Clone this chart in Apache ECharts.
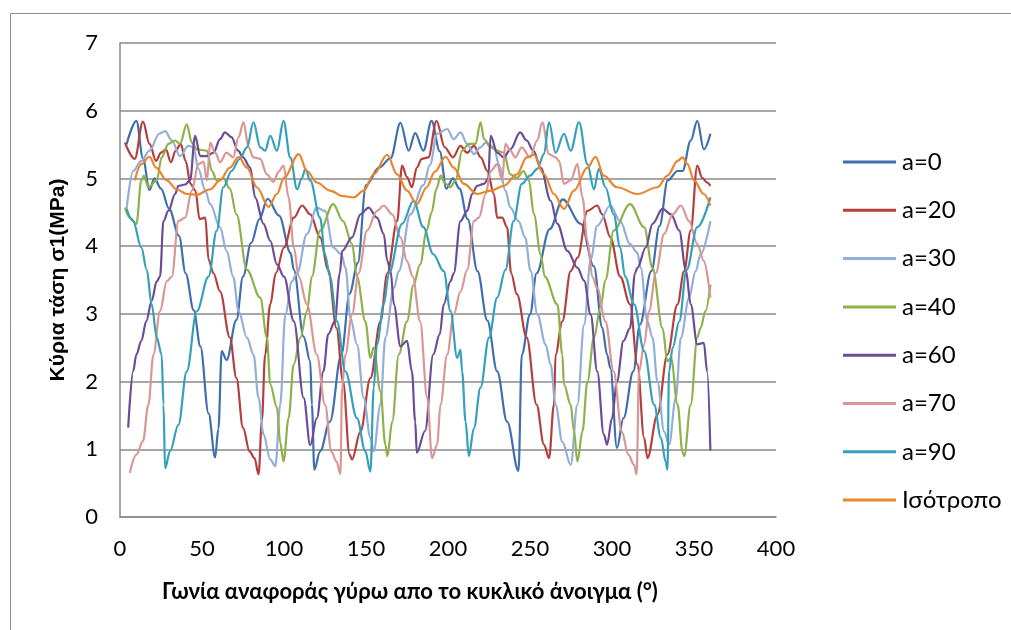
<!DOCTYPE html>
<html><head><meta charset="utf-8">
<script src="https://cdn.jsdelivr.net/npm/echarts@6/dist/echarts.min.js"></script>
<style>html,body{margin:0;padding:0;background:#fff}#c{width:1011px;height:630px}</style>
</head><body><div id="c"></div>
<script>
const seriesNames = ['a=0','a=20','a=30','a=40','a=60','a=70','a=90','Ισότροπο'];
const xTicks = [0,50,100,150,200,250,300,350,400];
const yTicks = [0,1,2,3,4,5,6,7];

const a0 = [[4,5.5],[10,5.85],[14,5.3],[18,4.83],[21,5.0],[25,4.85],[30,4.55],[36,4.15],[40,3.6],[45,3.05],[49,2.52],[54,1.53],[58,0.88],[60,1.3],[62,2.45],[65,2.32],[71,2.91],[75,3.55],[80,4.05],[85,4.4],[90,4.7],[97,4.45],[104,3.9],[106,3.65],[112,2.66],[116,2.3],[117,1.66],[118.5,0.7],[122,0.97],[128,1.41],[135,2.4],[140,3.3],[145,3.75],[150,4.9],[158,5.16],[165,5.3],[171,5.82],[176,5.41],[180,5.67],[185,5.41],[190,5.85],[195,5.4],[199,4.85],[203,5.0],[207,4.85],[212,4.4],[218,3.63],[224,2.9],[230,2.15],[236,1.41],[243,0.68],[245,2.4],[250,2.99],[254,3.6],[262,4.25],[270,4.69],[281,4.33],[289,3.7],[294,2.8],[297,2.4],[299,2.2],[303,1.02],[307,1.46],[313,2.15],[317,2.84],[324,3.63],[329,4.3],[334,4.97],[340,5.11],[343,5.11],[348,5.56],[352,5.85],[356,5.43],[360,5.66]];
const a20 = [[3,5.53],[9,5.29],[14,5.84],[18,5.51],[22,5.26],[25,5.38],[28,5.43],[31,5.24],[34,5.41],[37,5.51],[40,5.26],[43,4.92],[46,4.82],[48.5,4.4],[52,4.42],[54,3.8],[57,3.6],[61,3.33],[67,2.65],[71,2.05],[75,1.32],[79,0.97],[82,0.87],[84.5,0.63],[86.5,1.42],[88.5,2.4],[91.6,3.14],[95,3.6],[100,3.98],[106,4.42],[111,4.6],[116,4.47],[122,4.13],[127,3.65],[132,2.79],[136,2.0],[140,0.92],[141.5,0.85],[146.6,1.26],[152.7,2.05],[158.8,2.89],[163,3.6],[169,4.37],[172,5.19],[175,5.02],[178,4.87],[181,5.16],[184,5.29],[188,5.31],[193,5.85],[198,5.46],[203,5.31],[207.6,5.48],[211.7,5.38],[215.8,5.48],[220,5.31],[224,5.11],[228,4.77],[230,4.42],[233,4.42],[236,4.28],[238.5,3.6],[242,3.29],[248,2.65],[254,1.66],[258.5,1.07],[261.6,0.87],[264.6,1.66],[265.6,2.4],[269.7,2.89],[274.8,3.63],[279,3.83],[285,4.52],[291,4.6],[294,4.47],[299,4.13],[305,3.55],[311,3.14],[315.5,2.25],[319.6,1.17],[321.6,0.87],[327.7,1.51],[333.8,2.4],[339.9,3.14],[344,3.63],[348,4.23],[352,5.19],[355,5.01],[358,4.94],[360,4.89]];
const a30 = [[4,4.55],[8,5.11],[13,5.26],[18,5.41],[24,5.66],[27.5,5.7],[31.6,5.56],[36.6,5.33],[41.7,5.48],[44.8,5.46],[47.8,5.14],[52,4.82],[55,4.62],[61,4.28],[65,3.93],[69,3.55],[72.3,3.04],[77.4,2.65],[81.4,2.4],[84.5,1.76],[87.5,1.22],[91.6,0.85],[94.7,0.75],[97.7,1.66],[100.8,2.99],[104.8,3.48],[108,3.6],[114,4.18],[120,4.57],[125,4.52],[130,3.98],[135,3.88],[137.5,3.68],[140.5,2.94],[144.5,2.55],[148.6,1.76],[152.7,1.17],[154.7,0.97],[158.8,1.66],[161.8,2.65],[167,3.38],[170,3.63],[177,4.47],[185,4.9],[189,5.2],[193.4,5.66],[199.5,5.73],[203.5,5.58],[207.6,5.68],[211.7,5.51],[215.8,5.36],[219.8,5.46],[223,5.53],[228,5.46],[231,5.21],[235,4.82],[238,4.57],[243,4.37],[247,4.13],[250.4,3.63],[254.5,2.99],[259.5,2.55],[262.6,2.25],[265.6,1.66],[269.7,1.11],[274.8,0.77],[278.9,1.66],[283,2.84],[287,3.8],[291,4.3],[299,4.6],[305,4.37],[311,4.03],[315.5,3.9],[317.5,3.68],[321.6,2.89],[324.7,2.65],[327.7,2.0],[331.8,1.26],[334.8,1.07],[338.9,1.76],[342,2.65],[347,3.24],[351,3.63],[354,3.88],[360,4.37]];
const a40 = [[3,4.57],[6,4.42],[10,4.33],[13,4.97],[14.5,5.04],[17.3,4.87],[22.4,4.97],[25.4,5.31],[29.5,5.51],[33.6,5.56],[36.6,5.51],[40.7,5.8],[43.8,5.53],[46.8,5.43],[53,5.41],[56,5.11],[59,4.97],[63,5.0],[67,4.85],[71,4.47],[77.4,3.65],[85.5,3.24],[89.6,2.65],[91.6,1.96],[95.7,1.62],[97.7,1.1],[99.7,0.82],[102.8,1.46],[105.9,2.25],[110,2.65],[114,3.04],[117,3.55],[122,4.23],[130,4.62],[136,4.37],[141.5,4.03],[144.5,3.55],[149.6,2.89],[152.7,2.35],[154.7,2.5],[158.8,1.86],[161.8,1.07],[163,0.9],[166,1.41],[170,2.4],[175,2.89],[179,3.43],[183,3.73],[187,4.23],[190,4.5],[193,4.85],[195.5,5.04],[198.5,4.92],[201.5,4.87],[204.6,4.97],[208.6,5.41],[212.7,5.51],[216.8,5.51],[219.8,5.83],[222,5.58],[226,5.46],[230,5.41],[234,5.38],[238,5.06],[242,5.01],[246,5.11],[249.3,4.97],[252.4,4.47],[256.5,3.88],[259,3.55],[266.7,3.14],[269.7,2.4],[270.7,1.96],[274.8,1.66],[276.8,1.27],[278.9,0.82],[282,1.27],[285,2.0],[289,2.65],[293,3.1],[296,3.5],[301,4.23],[311,4.62],[319.6,4.28],[324.7,3.68],[330.8,2.79],[333.8,2.3],[336,2.35],[340,1.66],[343,0.96],[344,0.9],[348,1.66],[352,2.65],[354,2.79],[357,3.04],[360,3.43]];
const a60 = [[5,1.32],[8,2.15],[10,2.4],[13,2.6],[16,2.89],[19.3,3.19],[22.4,3.48],[24.4,3.55],[26.5,4.37],[29.5,4.52],[33.6,4.77],[35.6,4.89],[39.7,4.91],[42.7,4.97],[45.8,5.63],[48.9,5.33],[53,5.33],[57,5.38],[61,5.58],[64,5.68],[68,5.61],[72,5.41],[75,5.31],[79.4,5.16],[82.4,4.72],[87.5,4.33],[91.6,4.08],[95.7,3.73],[100,3.55],[106,2.89],[112,1.76],[116,1.06],[120,1.46],[124,2.15],[127,2.7],[131,2.89],[134,3.6],[135.5,3.93],[141.5,4.13],[146.6,4.47],[151.6,4.57],[156.7,4.42],[160.8,4.18],[163,3.78],[165,3.63],[167,3.14],[171,2.52],[175,2.6],[178,2.15],[180,1.41],[181,0.95],[186,1.27],[191,2.4],[195,2.7],[197.4,3.14],[201.5,3.48],[203.5,3.6],[207.6,4.37],[211.7,4.52],[214.7,4.77],[217.8,4.89],[222,4.92],[224.5,5.0],[226,5.63],[230,5.38],[234,5.31],[238,5.43],[244,5.68],[248,5.56],[252,5.41],[256.5,5.16],[262.6,4.67],[266.7,4.33],[272.8,3.93],[279,3.68],[283,3.49],[287,2.99],[291,2.15],[295,1.22],[297,1.07],[300,1.46],[303,2.0],[307,2.6],[311,2.79],[314,3.6],[315.5,3.68],[320.6,3.98],[324.7,4.33],[330.8,4.55],[336,4.47],[341,4.23],[345,3.65],[348,3.14],[352,2.55],[356,2.57],[358,2.15],[360,0.98]];
const a70 = [[6,0.65],[10,0.92],[14,1.12],[17.3,1.66],[20.4,2.4],[24.4,3.04],[28.5,3.48],[31.6,3.55],[35.6,4.37],[39.7,4.42],[43.8,4.82],[47.8,5.21],[50.9,5.25],[53,4.97],[55,5.53],[58,5.38],[61,5.24],[65,5.38],[69,5.31],[72.3,5.61],[75.3,5.83],[78.4,5.46],[81.4,5.31],[85.5,5.29],[89.6,5.06],[93.6,4.95],[96.7,5.1],[99.7,5.19],[102.8,4.72],[106,3.98],[109,3.55],[114,3.14],[120,2.4],[125,1.66],[129,0.96],[132,0.82],[134.4,0.63],[135.4,1.91],[137.4,2.4],[141.5,2.99],[145.5,3.6],[150.6,4.23],[156.7,4.52],[160.8,4.6],[166,4.47],[171,4.13],[175,3.78],[178.5,3.55],[183,2.89],[187.3,1.76],[190.3,0.87],[193.4,1.07],[195.4,1.66],[199.5,2.4],[203.5,2.99],[207.6,3.33],[211.7,3.65],[215.8,4.37],[218.8,4.42],[223,4.77],[226,5.11],[230,5.21],[233,4.97],[235,5.51],[238,5.41],[241,5.31],[245,5.46],[250,5.31],[254.4,5.56],[257.5,5.83],[261.6,5.36],[265.6,5.31],[267.7,5.26],[270.7,4.92],[274.8,4.97],[278.9,5.21],[282,4.72],[285,4.08],[288,3.55],[291,3.38],[296,2.89],[301,2.15],[306,1.26],[310,0.92],[313.5,0.77],[315,0.63],[316.5,2.15],[319.6,2.55],[322.6,3.04],[326.7,3.6],[331.8,4.18],[337,4.47],[342,4.6],[347,4.37],[352,4.03],[356,3.78],[360,3.24]];
const a90 = [[4,4.55],[8,4.37],[13,3.98],[16.3,3.65],[19.3,3.14],[22.4,2.65],[25.4,2.4],[26.5,1.66],[27.5,0.72],[30.5,0.97],[35.6,1.36],[40.7,2.15],[46.8,3.04],[54,3.55],[59,4.23],[63,4.87],[68,5.11],[73,5.29],[77.4,5.46],[81.4,5.83],[85.5,5.46],[88.5,5.41],[91.6,5.63],[95.7,5.41],[99.7,5.85],[103.8,5.31],[108,4.84],[111,5.01],[113,5.14],[116,4.97],[122,4.42],[125,3.88],[128,3.55],[132.3,2.89],[137.4,2.15],[144.5,1.46],[149.6,0.97],[152.7,0.67],[154.7,1.91],[156.7,2.55],[160.8,3.14],[164,3.6],[172,4.33],[179,4.67],[185,4.28],[191,3.88],[197.4,3.63],[201.5,3.04],[205.6,2.35],[207.6,2.47],[208.6,2.15],[210.7,1.41],[212.7,0.9],[215.8,1.31],[219.8,1.91],[225,2.65],[230,3.24],[235,3.65],[240,4.37],[245,4.92],[250,5.04],[254.4,5.14],[258.5,5.36],[261.6,5.83],[265.6,5.38],[270.7,5.66],[274.8,5.41],[279.9,5.83],[285,5.21],[289,4.84],[292,5.14],[296,4.87],[301,4.47],[305,3.98],[308,3.55],[313.5,3.14],[319.6,2.45],[325.7,1.66],[329.8,1.17],[332.8,0.81],[333.8,0.7],[334.8,2.15],[337,2.5],[341,2.89],[345.5,3.65],[352,4.28],[360,4.72]];
const iso = [[9,4.97],[13,5.21],[18,5.32],[22,5.16],[28.5,4.97],[34.6,4.84],[40.7,4.77],[46.8,4.76],[55,4.84],[61,4.97],[67,5.16],[72.3,5.32],[77.4,5.16],[83.5,4.87],[90.6,4.58],[95.7,4.77],[100,5.01],[109,5.36],[114,5.11],[120,4.94],[128,4.82],[136,4.74],[142.5,4.72],[148.6,4.82],[154.7,5.06],[162.9,5.35],[169,5.06],[175,4.82],[181,4.62],[187,4.87],[192,5.1],[198.5,5.32],[203.5,5.16],[209.7,4.92],[217.8,4.77],[226,4.82],[234,4.89],[242,5.06],[248,5.31],[252.4,5.35],[258.5,5.06],[264.6,4.77],[270.7,4.55],[276.8,4.82],[285,5.16],[290,5.32],[295,5.04],[303,4.87],[315.5,4.77],[327.7,4.87],[333.8,5.04],[340,5.26],[343,5.31],[346,5.21],[350,4.97],[356,4.77],[360,4.6]];

const seriesData = [a0,a20,a30,a40,a60,a70,a90,iso];
const colors = ['#3F6FAE','#B3403C','#93AED8','#8DB24A','#6A4C97','#D99694','#34A0BC','#E8852E'];
const FONT = 'Lato, "Liberation Sans", sans-serif';

const chart = echarts.init(document.getElementById('c'), null, {renderer:'canvas'});
chart.setOption({
  animation:false,
  backgroundColor:'#fff',
  color: colors,
  grid:{left:120,right:235,top:43,bottom:113,containLabel:false},
  xAxis:{type:'value',min:xTicks[0],max:xTicks[xTicks.length-1],interval:50,
    axisLine:{show:true,lineStyle:{color:'#8a8a8a',width:1.5}},
    axisTick:{show:false},
    splitLine:{show:false},
    axisLabel:{fontFamily:FONT,fontSize:22,color:'#000',margin:21}},
  yAxis:{type:'value',min:yTicks[0],max:yTicks[yTicks.length-1],interval:1,
    axisLine:{show:true,lineStyle:{color:'#8a8a8a',width:1.5}},
    axisTick:{show:false},
    splitLine:{show:true,lineStyle:{color:'#8a8a8a',width:1.5}},
    axisLabel:{fontFamily:FONT,fontSize:22,color:'#000',margin:22}},
  legend:{orient:'vertical',left:838,top:145,itemGap:24.3,itemWidth:53,itemHeight:3,icon:'rect',
    data:seriesNames,textStyle:{fontFamily:FONT,fontSize:24,color:'#000',lineHeight:24,padding:[0,0,0,1]}},
  graphic:[
    {type:'rect',shape:{x:10.5,y:13.5,width:1100,height:700},style:{fill:'none',stroke:'#8c8c8c',lineWidth:1},silent:true,z:-1},
    {type:'text',x:410,y:592,style:{text:'Γωνία αναφοράς γύρω απο το κυκλικό άνοιγμα (°)',
      align:'center',verticalAlign:'middle',fontFamily:FONT,fontSize:22,fontWeight:'bold',fill:'#000'}},
    {type:'text',x:58,y:280,rotation:Math.PI/2,style:{text:'Κύρια τάση σ1(MPa)',align:'center',verticalAlign:'middle',
      fontFamily:'"Liberation Sans", Arial, sans-serif',fontSize:21,fontWeight:'bold',fill:'#000'}}
  ],
  series: seriesNames.map((n,i)=>({name:n,type:'line',data:seriesData[i],smooth:0.35,smoothMonotone:'x',
    showSymbol:false,symbol:'none',lineStyle:{width:2.2,color:colors[i]},itemStyle:{color:colors[i]}}))
});
</script></body></html>
